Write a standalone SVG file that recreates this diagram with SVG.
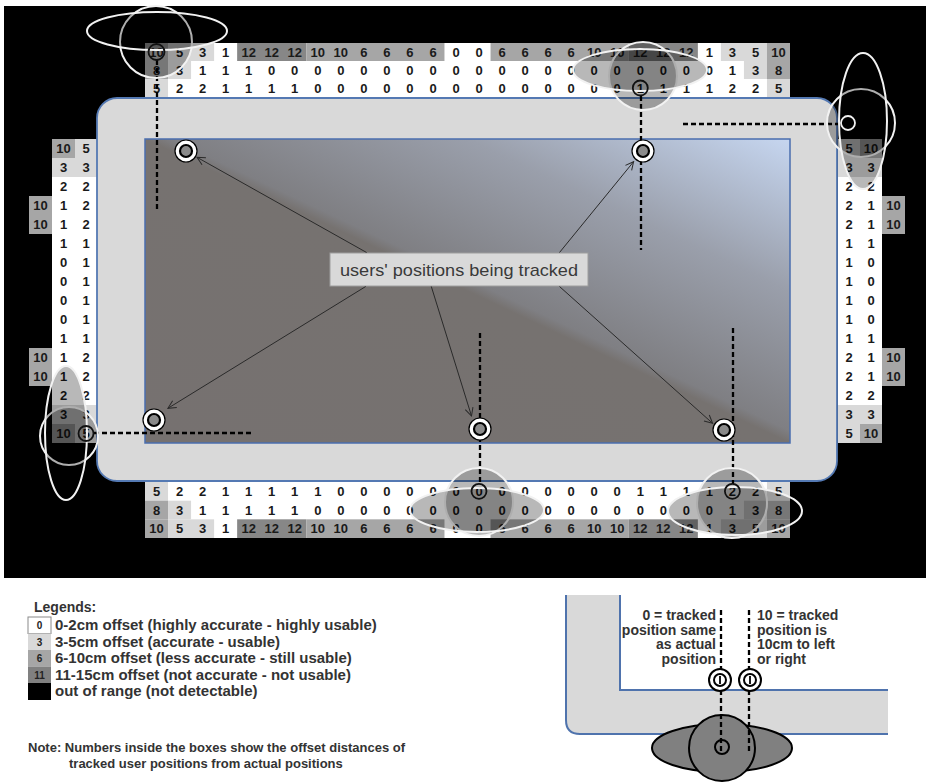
<svg xmlns="http://www.w3.org/2000/svg" xmlns:xlink="http://www.w3.org/1999/xlink" width="926" height="783" viewBox="0 0 926 783">
<style>
.n{font-family:"Liberation Sans",Arial,sans-serif;font-weight:bold;font-size:13px;text-anchor:middle;fill:#1a1a1a}
.w{fill:#ffffff}.l{fill:#d9d9d9}.m{fill:#a6a6a6}.d{fill:#878787}
.dash{stroke:#000;stroke-width:2.3;stroke-dasharray:5 3;fill:none}
.ov{fill:#000;fill-opacity:0.28;stroke:#f2f2f2;stroke-width:2}
.cn{fill:none;stroke:#111;stroke-width:1.8}
.arr{stroke:#2a2a2a;stroke-width:1;fill:none;marker-end:url(#ah)}
.mk1{fill:#fff;stroke:#000;stroke-width:1.2}
.mk2{fill:#8a8a8a;stroke:#000;stroke-width:2.2}
.lg{font-family:"Liberation Sans",Arial,sans-serif;font-weight:bold;font-size:14px;fill:#333}
.lr{font-size:15px}
.nt{font-size:13px}
.sw{font-family:"Liberation Sans",Arial,sans-serif;font-weight:bold;font-size:10px;text-anchor:middle}
</style>
<defs>
<marker id="ah" markerWidth="10" markerHeight="10" refX="9" refY="5" orient="auto" markerUnits="userSpaceOnUse">
<path d="M1,1 L9,5 L1,9" fill="none" stroke="#2a2a2a" stroke-width="1"/>
</marker>
<linearGradient id="scr" x1="0" y1="1" x2="1" y2="0">
<stop offset="0" stop-color="#767170"/>
<stop offset="0.5" stop-color="#767270"/>
<stop offset="0.52" stop-color="#7f7f83"/>
<stop offset="0.75" stop-color="#9a9fab"/>
<stop offset="1" stop-color="#c6d6f0"/>
</linearGradient>
<g id="rowA">
<text x="156.5">10</text><text x="179.6">5</text><text x="202.6">3</text><text x="225.6">1</text><text x="248.7">12</text><text x="271.7">12</text><text x="294.7">12</text><text x="317.8">10</text><text x="340.8">10</text><text x="363.8">6</text><text x="386.9">6</text><text x="409.9">6</text><text x="433">6</text><text x="456">0</text><text x="479">0</text><text x="502.1">6</text><text x="525.1">6</text><text x="548.1">6</text><text x="571.2">6</text><text x="594.2">10</text><text x="617.2">10</text><text x="640.3">12</text><text x="663.3">12</text><text x="686.3">12</text><text x="709.4">1</text><text x="732.4">3</text><text x="755.5">5</text><text x="778.5">10</text>
</g>
<g id="shA">
<rect class="m" x="145" width="23.04" height="18"/><rect class="l" x="168.04" width="46.07" height="18"/><rect class="d" x="237.14" width="69.11" height="18"/><rect class="m" x="306.25" width="138.22" height="18"/><rect class="m" x="490.54" width="138.22" height="18"/><rect class="d" x="628.76" width="69.1" height="18"/><rect class="l" x="720.9" width="46.07" height="18"/><rect class="m" x="766.97" width="23.03" height="18"/>
</g>
</defs>

<rect x="0" y="0" width="926" height="783" fill="#fff"/>
<rect x="4" y="6" width="922" height="572" fill="#000"/>

<g id="top-grid">
<rect class="w" x="145" y="43" width="645" height="54"/>
<use xlink:href="#shA" y="43"/>
<rect class="m" x="145" y="61" width="23.04" height="18"/><rect class="l" x="168.04" y="61" width="23.03" height="18"/><rect class="l" x="743.94" y="61" width="23.03" height="18"/><rect class="m" x="766.97" y="61" width="23.03" height="18"/>
<rect class="l" x="145" y="79" width="23.04" height="18"/><rect class="l" x="766.97" y="79" width="23.03" height="18"/>
<g class="n">
<use xlink:href="#rowA" y="56.6"/>
<g transform="translate(0,74.6)"><text x="156.5">8</text><text x="179.6">3</text><text x="202.6">1</text><text x="225.6">1</text><text x="248.7">1</text><text x="271.7">0</text><text x="294.7">0</text><text x="317.8">0</text><text x="340.8">0</text><text x="363.8">0</text><text x="386.9">0</text><text x="409.9">0</text><text x="433">0</text><text x="456">0</text><text x="479">0</text><text x="502.1">0</text><text x="525.1">0</text><text x="548.1">0</text><text x="571.2">0</text><text x="594.2">0</text><text x="617.2">0</text><text x="640.3">0</text><text x="663.3">0</text><text x="686.3">0</text><text x="709.4">0</text><text x="732.4">1</text><text x="755.5">3</text><text x="778.5">8</text></g>
<g transform="translate(0,92.6)"><text x="156.5">5</text><text x="179.6">2</text><text x="202.6">2</text><text x="225.6">1</text><text x="248.7">1</text><text x="271.7">1</text><text x="294.7">1</text><text x="317.8">0</text><text x="340.8">0</text><text x="363.8">0</text><text x="386.9">0</text><text x="409.9">0</text><text x="433">0</text><text x="456">0</text><text x="479">0</text><text x="502.1">0</text><text x="525.1">0</text><text x="548.1">0</text><text x="571.2">0</text><text x="594.2">0</text><text x="617.2">0</text><text x="640.3">1</text><text x="663.3">1</text><text x="686.3">1</text><text x="709.4">1</text><text x="732.4">2</text><text x="755.5">2</text><text x="778.5">5</text></g>
</g>
</g>

<g id="bottom-grid">
<rect class="w" x="145" y="482" width="645" height="56"/>
<rect class="l" x="145" y="482" width="23.04" height="18.67"/><rect class="l" x="766.97" y="482" width="23.03" height="18.67"/>
<rect class="m" x="145" y="500.67" width="23.04" height="18.67"/><rect class="l" x="168.04" y="500.67" width="23.03" height="18.67"/><rect class="l" x="743.94" y="500.67" width="23.03" height="18.67"/><rect class="m" x="766.97" y="500.67" width="23.03" height="18.67"/>
<use xlink:href="#shA" transform="translate(0,519.33) scale(1,1.037)"/>
<g class="n">
<g transform="translate(0,495.9)"><text x="156.5">5</text><text x="179.6">2</text><text x="202.6">2</text><text x="225.6">1</text><text x="248.7">1</text><text x="271.7">1</text><text x="294.7">1</text><text x="317.8">1</text><text x="340.8">0</text><text x="363.8">0</text><text x="386.9">0</text><text x="409.9">0</text><text x="433">0</text><text x="456">0</text><text x="479">0</text><text x="502.1">0</text><text x="525.1">0</text><text x="548.1">0</text><text x="571.2">0</text><text x="594.2">0</text><text x="617.2">0</text><text x="640.3">1</text><text x="663.3">1</text><text x="686.3">1</text><text x="709.4">1</text><text x="732.4">2</text><text x="755.5">2</text><text x="778.5">5</text></g>
<g transform="translate(0,514.6)"><text x="156.5">8</text><text x="179.6">3</text><text x="202.6">1</text><text x="225.6">1</text><text x="248.7">1</text><text x="271.7">1</text><text x="294.7">1</text><text x="317.8">0</text><text x="340.8">0</text><text x="363.8">0</text><text x="386.9">0</text><text x="409.9">0</text><text x="433">0</text><text x="456">0</text><text x="479">0</text><text x="502.1">0</text><text x="525.1">0</text><text x="548.1">0</text><text x="571.2">0</text><text x="594.2">0</text><text x="617.2">0</text><text x="640.3">0</text><text x="663.3">0</text><text x="686.3">0</text><text x="709.4">0</text><text x="732.4">1</text><text x="755.5">3</text><text x="778.5">8</text></g>
<use xlink:href="#rowA" y="533.3"/>
</g>
</g>

<g id="left-grid">
<rect class="w" x="52" y="139" width="45" height="304"/>
<rect class="m" x="52" y="139" width="23" height="19"/><rect class="l" x="75" y="139" width="22" height="19"/>
<rect class="l" x="52" y="158" width="45" height="19"/>
<rect class="l" x="52" y="405" width="45" height="19"/>
<rect class="m" x="52" y="424" width="23" height="19"/><rect class="l" x="75" y="424" width="22" height="19"/>
<rect class="m" x="29" y="196" width="23" height="38"/><rect class="m" x="29" y="348" width="23" height="38"/>
<g class="n">
<text x="63.5" y="153.1">10</text><text x="86" y="153.1">5</text>
<text x="63.5" y="172.1">3</text><text x="86" y="172.1">3</text>
<text x="63.5" y="191.1">2</text><text x="86" y="191.1">2</text>
<text x="40.5" y="210.1">10</text><text x="63.5" y="210.1">1</text><text x="86" y="210.1">2</text>
<text x="40.5" y="229.1">10</text><text x="63.5" y="229.1">1</text><text x="86" y="229.1">2</text>
<text x="63.5" y="248.1">1</text><text x="86" y="248.1">1</text>
<text x="63.5" y="267.1">0</text><text x="86" y="267.1">1</text>
<text x="63.5" y="286.1">0</text><text x="86" y="286.1">1</text>
<text x="63.5" y="305.1">0</text><text x="86" y="305.1">1</text>
<text x="63.5" y="324.1">0</text><text x="86" y="324.1">1</text>
<text x="63.5" y="343.1">1</text><text x="86" y="343.1">1</text>
<text x="40.5" y="362.1">10</text><text x="63.5" y="362.1">1</text><text x="86" y="362.1">2</text>
<text x="40.5" y="381.1">10</text><text x="63.5" y="381.1">1</text><text x="86" y="381.1">2</text>
<text x="63.5" y="400.1">2</text><text x="86" y="400.1">2</text>
<text x="63.5" y="419.1">3</text><text x="86" y="419.1">3</text>
<text x="63.5" y="438.1">10</text><text x="86" y="438.1">5</text>
</g>
</g>

<g id="right-grid">
<rect class="w" x="838" y="139" width="44" height="304"/>
<rect class="l" x="838" y="139" width="22" height="19"/><rect class="m" x="860" y="139" width="22" height="19"/>
<rect class="l" x="838" y="158" width="44" height="19"/>
<rect class="l" x="838" y="405" width="44" height="19"/>
<rect class="l" x="838" y="424" width="22" height="19"/><rect class="m" x="860" y="424" width="22" height="19"/>
<rect class="m" x="882" y="196" width="23" height="38"/><rect class="m" x="882" y="348" width="23" height="38"/>
<g class="n">
<text x="849" y="153.1">5</text><text x="871" y="153.1">10</text>
<text x="849" y="172.1">3</text><text x="871" y="172.1">3</text>
<text x="849" y="191.1">2</text><text x="871" y="191.1">2</text>
<text x="849" y="210.1">2</text><text x="871" y="210.1">1</text><text x="893.5" y="210.1">10</text>
<text x="849" y="229.1">2</text><text x="871" y="229.1">1</text><text x="893.5" y="229.1">10</text>
<text x="849" y="248.1">1</text><text x="871" y="248.1">1</text>
<text x="849" y="267.1">1</text><text x="871" y="267.1">0</text>
<text x="849" y="286.1">1</text><text x="871" y="286.1">0</text>
<text x="849" y="305.1">1</text><text x="871" y="305.1">0</text>
<text x="849" y="324.1">1</text><text x="871" y="324.1">0</text>
<text x="849" y="343.1">1</text><text x="871" y="343.1">1</text>
<text x="849" y="362.1">2</text><text x="871" y="362.1">1</text><text x="893.5" y="362.1">10</text>
<text x="849" y="381.1">2</text><text x="871" y="381.1">1</text><text x="893.5" y="381.1">10</text>
<text x="849" y="400.1">2</text><text x="871" y="400.1">2</text>
<text x="849" y="419.1">3</text><text x="871" y="419.1">3</text>
<text x="849" y="438.1">5</text><text x="871" y="438.1">10</text>
</g>
</g>

<g id="monitor">
<rect x="97" y="98" width="740" height="383" rx="20" fill="#d9d9d9" stroke="#5479b3" stroke-width="1.8"/>
<rect x="145" y="139" width="645" height="304" fill="url(#scr)" stroke="#4a6eae" stroke-width="1.5"/>
</g>

<g id="label">
<rect x="330" y="253" width="258" height="33" fill="#d9d9d9" stroke="#9e9e9e" stroke-width="1"/>
<text x="459" y="276" text-anchor="middle" font-family="'Liberation Sans Narrow','Liberation Sans',Arial,sans-serif" font-size="17" fill="#3a3a3a" textLength="238" lengthAdjust="spacingAndGlyphs">users' positions being tracked</text>
</g>

<g id="connectors">
<line class="arr" x1="366.6" y1="252.5" x2="197" y2="157.3"/>
<line class="arr" x1="559.5" y1="252.5" x2="633.6" y2="161.7"/>
<line class="arr" x1="365.7" y1="286.5" x2="167.9" y2="408.3"/>
<line class="arr" x1="431.3" y1="286.5" x2="471.5" y2="416"/>
<line class="arr" x1="559.5" y1="286.5" x2="712.6" y2="423.3"/>
<line class="dash" x1="157" y1="60" x2="157" y2="212"/>
<line class="dash" x1="641" y1="96" x2="641" y2="250"/>
<line class="dash" x1="683" y1="124" x2="841" y2="124"/>
<line class="dash" x1="94" y1="433" x2="253" y2="433"/>
<line class="dash" x1="480" y1="333" x2="480" y2="484"/>
<line class="dash" x1="733" y1="328" x2="733" y2="484"/>
</g>

<g id="markers">
<g id="m-tl"><circle class="mk1" cx="186" cy="151" r="11"/><circle class="mk2" cx="186" cy="151" r="6"/></g>
<g id="m-tr"><circle class="mk1" cx="643" cy="151" r="11"/><circle class="mk2" cx="643" cy="151" r="6"/></g>
<g id="m-bl"><circle class="mk1" cx="154" cy="420" r="11"/><circle class="mk2" cx="154" cy="420" r="6"/></g>
<g id="m-bm"><circle class="mk1" cx="480" cy="429" r="11"/><circle class="mk2" cx="480" cy="429" r="6"/></g>
<g id="m-br"><circle class="mk1" cx="724" cy="430" r="11"/><circle class="mk2" cx="724" cy="430" r="6"/></g>
</g>

<g id="ranges">
<circle class="ov" cx="156" cy="42" r="36"/><ellipse class="ov" cx="157" cy="31" rx="70" ry="19"/>
<circle class="ov" cx="643" cy="76" r="34"/><ellipse class="ov" cx="640" cy="70" rx="67" ry="21"/>
<circle class="ov" cx="861" cy="123" r="34"/><ellipse class="ov" cx="863" cy="121" rx="24" ry="68"/>
<circle class="ov" cx="69" cy="436" r="29"/><ellipse class="ov" cx="66" cy="433" rx="21" ry="67"/>
<circle class="ov" cx="479" cy="502" r="34"/><ellipse class="ov" cx="477" cy="510" rx="67" ry="22"/>
<circle class="ov" cx="732" cy="503" r="35"/><ellipse class="ov" cx="735" cy="511" rx="67" ry="24"/>
</g>

<g id="circled">
<circle class="cn" cx="156.5" cy="52" r="8"/>
<circle class="cn" cx="640.3" cy="88" r="7.5"/>
<circle class="cn" cx="86" cy="433.5" r="7.5"/>
<circle class="cn" cx="479" cy="491.3" r="7.5"/>
<circle class="cn" cx="732.4" cy="491.3" r="7.5"/>
<circle cx="848" cy="123" r="7" fill="#000" stroke="#f2f2f2" stroke-width="1.8"/>
</g>

<g id="legend">
<text class="lg" x="34" y="612">Legends:</text>
<rect x="28" y="617" width="23" height="16.5" fill="#fff" stroke="#8a8a8a" stroke-width="1"/>
<rect x="28" y="633.5" width="23" height="16.5" fill="#d9d9d9"/>
<rect x="28" y="650" width="23" height="16.5" fill="#a6a6a6"/>
<rect x="28" y="666.5" width="23" height="16.5" fill="#808080"/>
<rect x="28" y="683" width="23" height="17" fill="#000"/>
<text class="sw" x="39.5" y="629" fill="#222">0</text>
<text class="sw" x="39.5" y="645.5" fill="#222">3</text>
<text class="sw" x="39.5" y="662" fill="#222">6</text>
<text class="sw" x="39.5" y="678.5" fill="#222">11</text>
<text class="lg lr" x="55" y="630">0-2cm offset (highly accurate - highly usable)</text>
<text class="lg lr" x="55" y="646.5">3-5cm offset (accurate - usable)</text>
<text class="lg lr" x="55" y="663">6-10cm offset (less accurate - still usable)</text>
<text class="lg lr" x="55" y="679.5">11-15cm offset (not accurate - not usable)</text>
<text class="lg lr" x="55" y="696">out of range (not detectable)</text>
<text class="lg nt" x="28" y="752">Note: Numbers inside the boxes show the offset distances of</text>
<text class="lg nt" x="69" y="768">tracked user positions from actual positions</text>
</g>

<g id="inset">
<path d="M566,595 L566,720 Q566,734 580,734 L888,734 L888,690 L620,690 L620,595 Z" fill="#d9d9d9"/>
<path d="M566,595 L566,720 Q566,734 580,734 L888,734" fill="none" stroke="#4f73ad" stroke-width="2"/>
<path d="M620,595 L620,690 L888,690" fill="none" stroke="#4f73ad" stroke-width="2"/>
<ellipse cx="722" cy="748" rx="70" ry="24" fill="#808080" stroke="#000" stroke-width="2"/>
<circle cx="722" cy="748" r="33" fill="#808080" stroke="#000" stroke-width="2"/>
<circle cx="722" cy="747" r="7" fill="#808080" stroke="#000" stroke-width="2"/>
<line class="dash" x1="721" y1="610" x2="721" y2="753"/>
<line class="dash" x1="749" y1="610" x2="749" y2="752"/>
<circle cx="720" cy="680" r="11" fill="#fff" stroke="#000" stroke-width="2"/>
<circle cx="720" cy="680" r="6" fill="#fff" stroke="#000" stroke-width="2"/>
<line x1="720" y1="676" x2="720" y2="684" stroke="#000" stroke-width="1.8"/>
<circle cx="750" cy="680" r="11" fill="#fff" stroke="#000" stroke-width="2"/>
<circle cx="750" cy="680" r="6" fill="#fff" stroke="#000" stroke-width="2"/>
<line x1="750" y1="676" x2="750" y2="684" stroke="#000" stroke-width="1.8"/>
<g class="lg" text-anchor="end">
<text x="716" y="620">0 = tracked</text>
<text x="716" y="634.5">position same</text>
<text x="716" y="649">as actual</text>
<text x="716" y="663.5">position</text>
</g>
<g class="lg">
<text x="757" y="620">10 = tracked</text>
<text x="757" y="634.5">position is</text>
<text x="757" y="649">10cm to left</text>
<text x="757" y="663.5">or right</text>
</g>
</g>
</svg>
